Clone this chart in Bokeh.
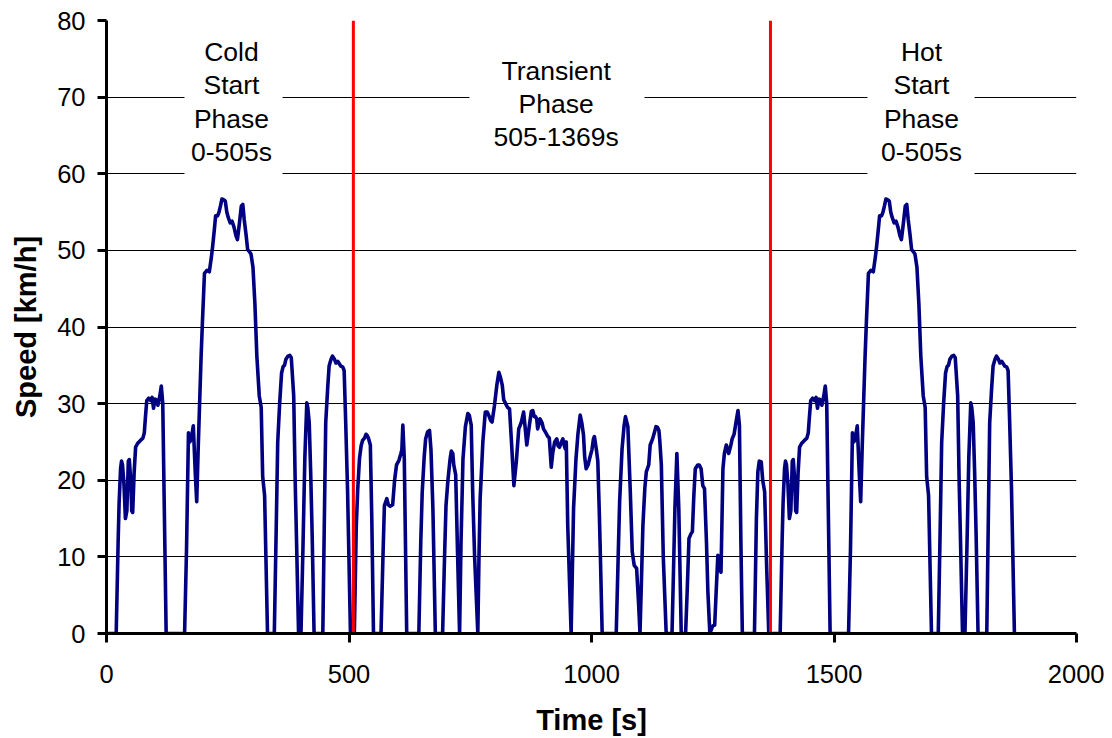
from bokeh.plotting import figure
from bokeh.models import Range1d, FixedTicker
from bokeh.core.properties import value
from bokeh.embed import file_html
from bokeh.resources import INLINE

# ---------------- data ----------------
cold_time = [
    0, 20, 24, 26, 29, 31, 33, 36, 39, 42,
    45, 47, 50, 52, 54, 57, 60, 64, 70, 75,
    78, 80, 83, 87, 91, 94, 97, 100, 103, 106,
    110, 113, 116, 123, 161, 165, 169, 172, 175, 179,
    183, 186, 189, 192, 195, 198, 202, 207, 212, 216,
    219, 222, 225, 229, 232, 235, 238, 242, 245, 248,
    251, 255, 259, 263, 267, 270, 274, 278, 281, 284,
    288, 291, 295, 298, 302, 306, 310, 315, 319, 322,
    326, 332, 346, 350, 353, 357, 361, 364, 367, 370,
    374, 378, 381, 384, 386, 389, 391, 396, 401, 405,
    409, 413, 415, 418, 421, 424, 428, 446, 449, 452,
    456, 459, 463, 466, 470, 473, 477, 480, 483, 487,
    490, 493, 497, 503, 505,
]
cold_speed = [
    0, 0, 12, 17, 21.5, 22.5, 22, 19.5, 15, 16,
    22.5, 22.7, 20, 16, 15.8, 21, 24.3, 24.8, 25.2, 25.5,
    26.2, 28, 30.4, 30.7, 30.4, 30.8, 29.4, 30.6, 30.5, 29.8,
    31, 32.3, 30, 0, 0, 11, 26.2, 25, 25.5, 27.1,
    21, 17.2, 24, 30.1, 36, 41, 47, 47.4, 47.2, 49,
    50.6, 52.5, 54.5, 54.5, 55, 55.8, 56.7, 56.6, 56.4, 55,
    54.3, 53.6, 53.8, 53, 51.9, 51.4, 53.5, 55.8, 56, 54,
    51.9, 50.1, 49.8, 49.5, 47.8, 43, 36.2, 31, 29.5, 20.5,
    18, 0, 0, 14, 24.9, 30, 34, 34.8, 35, 35.8,
    36.2, 36.3, 36, 33, 31, 20, 14.5, 0, 0, 11,
    23, 30.1, 29.5, 27.5, 21, 13, 0, 0, 14, 27.5,
    32, 34.9, 35.8, 36.2, 35.8, 35.3, 35.5, 35.2, 34.9, 34.8,
    34.3, 28, 18.8, 0, 0,
]

transient_time = [
    505, 511, 515, 518, 521.6, 525, 528, 532, 535, 537,
    540, 544, 547, 550.5, 566, 570, 573, 578, 581, 585,
    590, 594, 598, 603, 607, 609, 611, 614, 619, 644,
    648, 651, 655, 658, 662, 666, 669, 673, 678, 693,
    697, 700, 704, 708.5, 711, 714, 716, 720, 724, 728,
    731, 735, 740, 745, 748, 752, 755, 759, 765.6, 768,
    770.4, 773, 776, 781, 785, 788, 792, 795, 800, 805,
    809, 812, 816, 819, 823, 827, 831, 835, 840, 845,
    850, 855, 860, 863, 866.6, 872, 876, 879, 882, 884.5,
    887, 889, 892, 894, 898, 901, 905, 910, 913, 917,
    920, 924, 928.5, 931, 934, 938, 941, 944, 946, 948,
    951, 958, 963, 968, 972, 976.6, 980, 983.5, 986, 989,
    993, 996, 1001, 1004, 1006, 1010, 1013, 1016, 1018, 1022,
    1051, 1055, 1058, 1063, 1067, 1070, 1075, 1080, 1084, 1088,
    1093, 1097, 1100, 1103, 1106, 1110, 1113, 1118, 1121, 1126,
    1130, 1133, 1136, 1139, 1141, 1144, 1148, 1154, 1166, 1169,
    1172, 1176, 1180, 1185, 1194, 1197, 1201, 1205, 1208, 1211,
    1214, 1219, 1222, 1226, 1229.5, 1233, 1237, 1240, 1244, 1250,
    1254, 1257, 1260.5, 1263, 1267, 1271, 1274, 1278, 1281, 1283,
    1287, 1290, 1294, 1297, 1302, 1305, 1308, 1311, 1336, 1340,
    1343, 1346, 1350, 1353, 1357, 1361, 1365.5, 1369,
]
transient_speed = [
    0, 0, 14, 18.8, 22.8, 24.5, 25.2, 25.5, 26, 25.9,
    25.5, 24.6, 15, 0, 0, 10, 16.7, 17.6, 16.8, 16.6,
    16.8, 20, 22, 22.6, 23.5, 24, 27.2, 22.8, 0, 0,
    12, 18.5, 23, 25.4, 26.3, 26.5, 24, 16.3, 0, 0,
    10, 16.7, 20, 22.8, 23.8, 23.5, 22, 20.7, 10, 0,
    12, 22.8, 27, 28.7, 28.5, 27.2, 18.5, 10, 0, 10,
    17.6, 21, 25, 28.9, 28.9, 28.5, 27.8, 27.6, 29.8, 32.5,
    34.1, 33.5, 32.4, 30.5, 30, 29.5, 29.3, 25, 19.3, 22.4,
    26.7, 27.5, 28.9, 27, 24.6, 27.2, 29, 29.1, 28.3, 28.3,
    28, 26.7, 27.5, 28, 27.5, 26.7, 26.3, 25.7, 25.5, 21.7,
    23.5, 25, 25.4, 24.5, 24.3, 25, 25.4, 24.5, 24.1, 25,
    14.1, 0, 16.3, 22.8, 26, 28.5, 27.5, 25.9, 23, 21.5,
    22, 22.8, 24, 25.4, 25.7, 24, 22.5, 16, 11, 0,
    0, 10, 17.2, 24.1, 27, 28.3, 27, 18.5, 10.7, 8.9,
    8.5, 4, 0, 7, 14.1, 19, 21.1, 22, 24.6, 25.4,
    26.3, 27, 26.9, 26.5, 25, 22, 10, 0, 0, 8,
    16.3, 23.5, 16.3, 0, 0, 5, 12.4, 13, 13.3, 18,
    21.5, 22, 22, 21.5, 19.3, 18.9, 12, 5.4, 0, 1,
    1.1, 5.4, 10.2, 9, 8, 21.5, 23.5, 24.6, 23.8, 23.5,
    24.5, 25.4, 26, 27.2, 29.1, 27.2, 12, 0, 0, 15,
    21.1, 22.5, 22.4, 20, 18.5, 9, 0, 0,
]

hot_time = [
    1369, 1389, 1393, 1395, 1398, 1400, 1402, 1405, 1408, 1411,
    1414, 1416, 1419, 1421, 1423, 1426, 1429, 1433, 1439, 1444,
    1447, 1449, 1452, 1456, 1460, 1463, 1466, 1469, 1472, 1475,
    1479, 1482, 1485, 1492, 1530, 1534, 1538, 1541, 1544, 1548,
    1552, 1555, 1558, 1561, 1564, 1567, 1571, 1576, 1581, 1585,
    1588, 1591, 1594, 1598, 1601, 1604, 1607, 1611, 1614, 1617,
    1620, 1624, 1628, 1632, 1636, 1639, 1643, 1647, 1650, 1653,
    1657, 1660, 1664, 1667, 1671, 1675, 1679, 1684, 1688, 1691,
    1695, 1701, 1715, 1719, 1722, 1726, 1730, 1733, 1736, 1739,
    1743, 1747, 1750, 1753, 1755, 1758, 1760, 1765, 1770, 1774,
    1778, 1782, 1784, 1787, 1790, 1793, 1797, 1815, 1818, 1821,
    1825, 1828, 1832, 1835, 1839, 1842, 1846, 1849, 1852, 1856,
    1859, 1862, 1866, 1872, 1874,
]
hot_speed = [
    0, 0, 12, 17, 21.5, 22.5, 22, 19.5, 15, 16,
    22.5, 22.7, 20, 16, 15.8, 21, 24.3, 24.8, 25.2, 25.5,
    26.2, 28, 30.4, 30.7, 30.4, 30.8, 29.4, 30.6, 30.5, 29.8,
    31, 32.3, 30, 0, 0, 11, 26.2, 25, 25.5, 27.1,
    21, 17.2, 24, 30.1, 36, 41, 47, 47.4, 47.2, 49,
    50.6, 52.5, 54.5, 54.5, 55, 55.8, 56.7, 56.6, 56.4, 55,
    54.3, 53.6, 53.8, 53, 51.9, 51.4, 53.5, 55.8, 56, 54,
    51.9, 50.1, 49.8, 49.5, 47.8, 43, 36.2, 31, 29.5, 20.5,
    18, 0, 0, 14, 24.9, 30, 34, 34.8, 35, 35.8,
    36.2, 36.3, 36, 33, 31, 20, 14.5, 0, 0, 11,
    23, 30.1, 29.5, 27.5, 21, 13, 0, 0, 14, 27.5,
    32, 34.9, 35.8, 36.2, 35.8, 35.3, 35.5, 35.2, 34.9, 34.8,
    34.3, 28, 18.8, 0, 0,
]

# positions of the two red phase-boundary lines as drawn in the picture
phase_bounds = [509, 1369]
x_ticks = [0, 500, 1000, 1500, 2000]
y_ticks = [0, 10, 20, 30, 40, 50, 60, 70, 80]

phase_label_lines = [
    ["Cold", "Start", "Phase", "0-505s"],
    ["Transient", "Phase", "505-1369s"],
    ["Hot", "Start", "Phase", "0-505s"],
]
# ---------------- layout / style ----------------
label_center_x = [257.7, 927.2, 1680.4]
label_first_baseline = [75.85, 73.42, 75.85]
label_line_step_px = [33.2, 33.0, 33.2]
box_left = [160.8, 748.5, 1569.0]
box_right = [362.9, 1109.3, 1789.7]
box_top = [79.0, 79.0, 79.0]
box_bottom = [59.3, 61.7, 59.3]

FONT = "Liberation Sans"

time_s = cold_time + transient_time + hot_time
speed = cold_speed + transient_speed + hot_speed
for a, b in ((cold_time, cold_speed), (transient_time, transient_speed), (hot_time, hot_speed)):
    assert len(a) == len(b), (len(a), len(b))

p = figure(width=1104, height=738,
           x_range=Range1d(0, 2000), y_range=Range1d(0, 80),
           output_backend="svg", toolbar_location=None,
           min_border_left=106, min_border_right=28,
           min_border_top=20, min_border_bottom=105)
p.outline_line_color = None
p.background_fill_color = "white"
p.border_fill_color = "white"

p.xgrid.visible = False
p.ygrid.grid_line_color = "black"
p.ygrid.grid_line_width = 1

p.xaxis.ticker = FixedTicker(ticks=x_ticks)
p.yaxis.ticker = FixedTicker(ticks=y_ticks)
for ax in (p.xaxis, p.yaxis):
    ax.axis_line_width = 3
    ax.axis_line_color = "black"
    ax.major_tick_line_width = 3
    ax.major_tick_line_color = "black"
    ax.major_tick_out = 9
    ax.major_tick_in = 0
    ax.minor_tick_line_color = None
    ax.major_label_text_font = FONT
    ax.major_label_text_font_size = "25.5px"
    ax.major_label_text_color = "black"
    ax.axis_label_text_font = FONT
    ax.axis_label_text_font_style = "bold"
    ax.axis_label_text_font_size = "29px"
    ax.axis_label_text_color = "black"

p.xaxis.axis_label = "Time [s]"
p.yaxis.axis_label = "Speed [km/h]"
p.xaxis.major_label_standoff = 22
p.yaxis.major_label_standoff = 12
p.xaxis.axis_label_standoff = 18
p.yaxis.axis_label_standoff = 12

# white boxes behind phase labels (hide grid lines)
p.quad(left=box_left, right=box_right, top=box_top, bottom=box_bottom,
       fill_color="white", line_color=None)

# speed trace
p.line(time_s, speed, line_color="#000080", line_width=3.6, line_join="round")

# phase boundaries
p.segment(x0=phase_bounds, y0=[0] * len(phase_bounds),
          x1=phase_bounds, y1=[80] * len(phase_bounds),
          line_color="#ff0000", line_width=3)

# phase labels
tx, ty, tt, toff = [], [], [], []
for i, lines in enumerate(phase_label_lines):
    for j, s in enumerate(lines):
        tx.append(label_center_x[i])
        ty.append(label_first_baseline[i])
        tt.append(s)
        toff.append(j * label_line_step_px[i])
p.text(x=tx, y=ty, text=tt, y_offset=toff,
       text_align="center", text_baseline="alphabetic",
       text_font=value(FONT), text_font_size=value("26.5px"),
       text_color="black")

open("out.html", "w").write(file_html(p, INLINE))
